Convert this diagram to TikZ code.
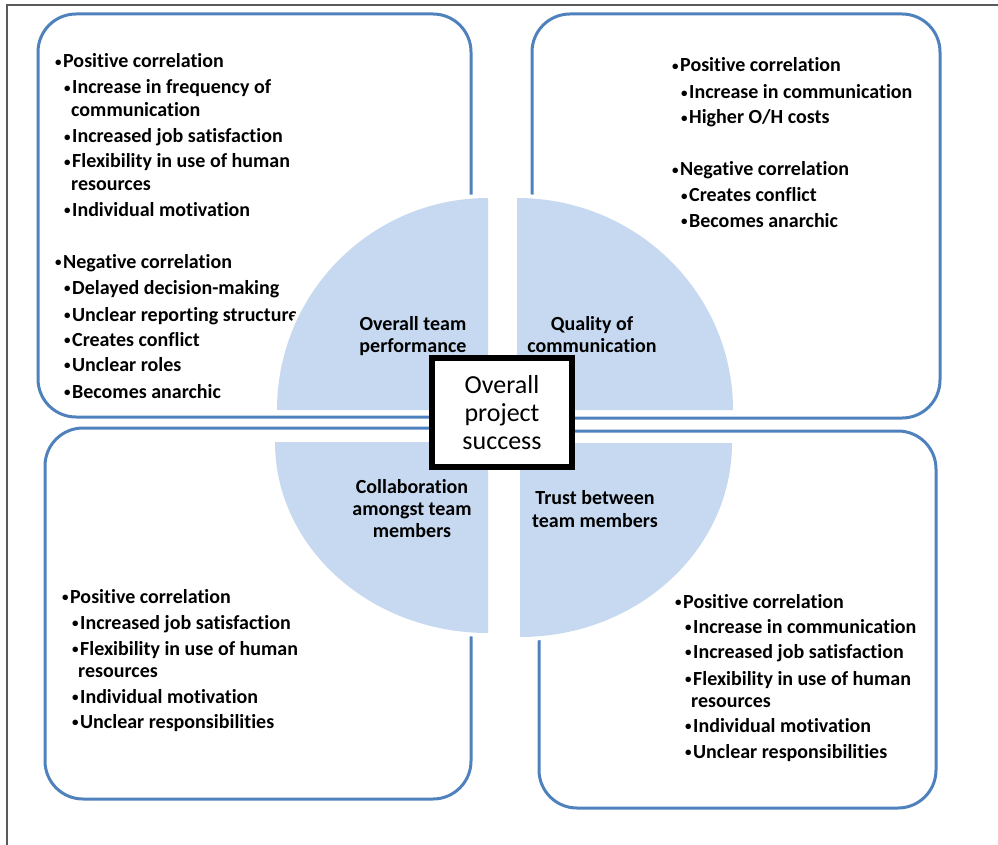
\documentclass[tikz,border=0pt]{standalone}
\usepackage{fontspec}
\setmainfont{Carlito}[Ligatures=NoCommon]
\usepackage{tikz}
\usetikzlibrary{positioning}

\definecolor{boxblue}{RGB}{79,129,189}
\definecolor{piefill}{RGB}{198,217,241}
\definecolor{framegray}{RGB}{90,90,90}

\newcommand\blt{\raisebox{1.5pt}{\fontsize{13}{13}\selectfont •}\hspace{1.5pt}}

\tikzset{
  quad/.style={draw=boxblue, line width=3pt, rounded corners=38pt},
  item/.style={anchor=base west, inner sep=0pt, font=\fontsize{20}{24}\selectfont\bfseries},
  piece/.style={fill=piefill, preaction={draw=white, line width=8pt}},
  seglabel/.style={anchor=base, inner sep=0pt, font=\fontsize{20}{22}\selectfont\bfseries},
  hub/.style={draw=black, line width=6pt, fill=white, inner sep=0pt,
    minimum width=140pt, minimum height=109pt, align=center,
    font=\fontsize{26}{28}\selectfont}
}

\begin{document}
\begin{tikzpicture}[x=1pt,y=-1pt]
\useasboundingbox (0,0) rectangle (998,845);
% frame
\draw[framegray, line width=1.5pt] (7,845) -- (7,5) -- (998,5);

% the four boxes
\draw[quad] (38,14) rectangle (471,417);
\draw[quad] (532,14) rectangle (940,418);
\draw[quad] (45,428) rectangle (471,799);
\draw[quad] (539,431) rectangle (936,808);

% lists
\foreach \yy/\xx/\txt [count=\i] in {
  68/55/\blt Positive correlation,
  94/64/\blt Increase in frequency of,
  117/71/communication,
  143/64/\blt Increased job satisfaction,
  168/64/\blt Flexibility in use of human,
  191/71/resources,
  216/64/\blt Individual motivation,
  268/55/\blt Negative correlation,
  294/64/\blt Delayed decision-making,
  321/64/\blt Unclear reporting structure,
  346/64/\blt Creates conflict,
  371/64/\blt Unclear roles,
  398/64/\blt Becomes anarchic}
  \node[item] (tl-\i) at (\xx,\yy) {\txt};

\foreach \yy/\xx/\txt [count=\i] in {
  72/672/\blt Positive correlation,
  99/681/\blt Increase in communication,
  124/681/{\blt Higher O/H costs},
  176/672/\blt Negative correlation,
  202/681/\blt Creates conflict,
  227/681/\blt Becomes anarchic}
  \node[item] (tr-\i) at (\xx,\yy) {\txt};

\foreach \yy/\xx/\txt [count=\i] in {
  603/62/\blt Positive correlation,
  629/72/\blt Increased job satisfaction,
  655/72/\blt Flexibility in use of human,
  677/78/resources,
  703/72/\blt Individual motivation,
  728/72/\blt Unclear responsibilities}
  \node[item] (bl-\i) at (\xx,\yy) {\txt};

\foreach \yy/\xx/\txt [count=\i] in {
  608/675/\blt Positive correlation,
  633/685/\blt Increase in communication,
  658/685/\blt Increased job satisfaction,
  685/685/\blt Flexibility in use of human,
  707/691/resources,
  732/685/\blt Individual motivation,
  758/685/\blt Unclear responsibilities}
  \node[item] (br-\i) at (\xx,\yy) {\txt};

% pie quarters
\path[piece] (488,410) -- (277,410) arc[start angle=180, end angle=270, x radius=211, y radius=212] -- cycle;
\path[piece] (517,410) -- (517,198) arc[start angle=270, end angle=360, x radius=216, y radius=212] -- cycle;
\path[piece] (488,442) -- (275,442) arc[start angle=180, end angle=90, x radius=213, y radius=191] -- cycle;
\path[piece] (520,443) -- (732,443) arc[start angle=0, end angle=90, x radius=212, y radius=194] -- cycle;

\node[seglabel] (perf1) at (413,330) {Overall team};
\node[seglabel] (perf2) at (413,352) {performance};
\node[seglabel] (qual1) at (592,330) {Quality of};
\node[seglabel] (qual2) at (592,352) {communication};
\node[seglabel] (coll1) at (412,493) {Collaboration};
\node[seglabel] (coll2) at (412,515) {amongst team};
\node[seglabel] (coll3) at (412,537) {members};
\node[seglabel] (trust1) at (595,504) {Trust between};
\node[seglabel] (trust2) at (595,527) {team members};

\node[hub] (success) at (502,412.5) {Overall\\project\\success};
\end{tikzpicture}
\end{document}
